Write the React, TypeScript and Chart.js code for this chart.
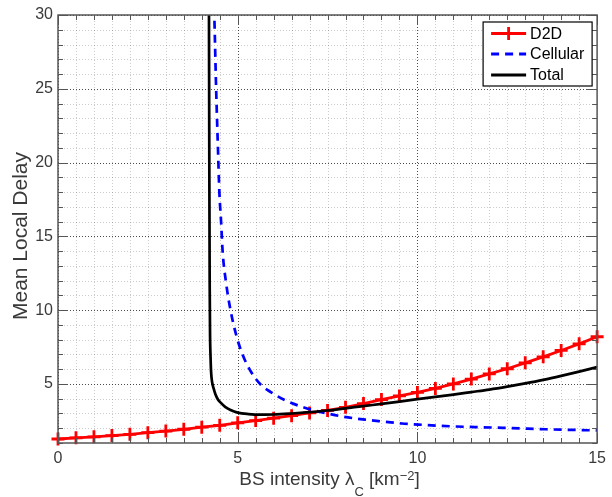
import React, { useEffect, useRef } from 'react';
import { Chart, registerables } from 'chart.js';

Chart.register(...registerables);

// ---- data ----
const d2dX = [0, 0.5, 1, 1.5, 2, 2.5, 3, 3.5, 4, 4.5, 5, 5.5, 6, 6.5, 7, 7.5, 8, 8.5, 9, 9.5, 10, 10.5, 11, 11.5, 12, 12.5, 13, 13.5, 14, 14.5, 15];
const d2dY = [1.27, 1.35, 1.42, 1.5, 1.59, 1.7, 1.81, 1.93, 2.07, 2.2, 2.37, 2.52, 2.68, 2.85, 3.04, 3.21, 3.42, 3.67, 3.94, 4.19, 4.43, 4.7, 5.0, 5.33, 5.68, 6.03, 6.43, 6.84, 7.27, 7.72, 8.2];

const cellularX = [4.33, 4.35, 4.4, 4.45, 4.49, 4.54, 4.58, 4.68, 4.8, 4.96, 5.14, 5.37, 5.65, 5.92, 6.29, 6.75, 7.12, 7.5, 7.9, 8.55, 9.1, 9.57, 10.03, 10.58, 11.04, 11.6, 12.05, 12.56, 13.07, 13.58, 14.08, 14.5, 15];
const cellularY = [31.5, 29.9, 25, 21, 18, 15.9, 14, 11.8, 10.0, 8.3, 6.96, 5.83, 4.93, 4.45, 3.93, 3.48, 3.21, 3.0, 2.8, 2.58, 2.44, 2.32, 2.25, 2.17, 2.12, 2.08, 2.05, 2.01, 1.97, 1.93, 1.9, 1.88, 1.85];

const totalX = [4.2, 4.21, 4.22, 4.23, 4.245, 4.26, 4.29, 4.33, 4.38, 4.45, 4.54, 4.65, 4.8, 5.0, 5.3, 5.65, 6.0, 6.5, 7.0, 7.5, 8.0, 8.5, 9.0, 9.5, 10, 10.5, 11, 11.5, 12, 12.5, 13, 13.5, 14, 14.5, 15];
const totalY = [31, 20, 12, 8.5, 6.8, 5.8, 5.1, 4.7, 4.3, 3.95, 3.7, 3.45, 3.24, 3.06, 2.96, 2.92, 2.93, 3.0, 3.09, 3.2, 3.35, 3.5, 3.65, 3.8, 3.97, 4.12, 4.28, 4.45, 4.62, 4.82, 5.04, 5.28, 5.55, 5.84, 6.14];

const seriesNames = ['D2D', 'Cellular', 'Total'];
const xMajorTicks = [0, 5, 10, 15];
const yMajorTicks = [5, 10, 15, 20, 25, 30];
const X_RANGE = [0, 15];
const Y_RANGE = [1, 30];

const FONT = '"Liberation Sans", Arial, Helvetica, sans-serif';
const AXIS_COLOR = '#555555';
const TEXT_COLOR = '#3a3a3a';

const toPoints = (xs: number[], ys: number[]) => xs.map((x, i) => ({ x, y: ys[i] }));

const framePlugin = {
  id: 'matlabFrame',
  beforeDatasetsDraw(chart: any) {
    const { ctx, chartArea: a, scales } = chart;
    const xs = scales.x;
    const ys = scales.y;
    ctx.save();
    ctx.beginPath();
    ctx.rect(a.left, a.top, a.right - a.left, a.bottom - a.top);
    ctx.clip();
    ctx.lineWidth = 1;
    const pass = (major: boolean) => {
      ctx.strokeStyle = major ? 'rgba(0,0,0,0.7)' : 'rgba(0,0,0,0.2)';
      ctx.setLineDash([1, 2]);
      xs.ticks.forEach((t: any) => {
        if (xMajorTicks.includes(t.value) !== major) return;
        const px = Math.round(xs.getPixelForValue(t.value)) + 0.5;
        ctx.beginPath();
        ctx.moveTo(px, a.top);
        ctx.lineTo(px, a.bottom);
        ctx.stroke();
      });
      ys.ticks.forEach((t: any) => {
        if (yMajorTicks.includes(t.value) !== major) return;
        const py = Math.round(ys.getPixelForValue(t.value)) + 0.5;
        ctx.beginPath();
        ctx.moveTo(a.left, py);
        ctx.lineTo(a.right, py);
        ctx.stroke();
      });
    };
    pass(false);
    pass(true);
    ctx.restore();
  },
  afterDatasetsDraw(chart: any) {
    const { ctx, chartArea: a, scales } = chart;
    const xs = scales.x;
    const ys = scales.y;
    ctx.save();
    ctx.setLineDash([]);
    // ticks (inward, all four sides)
    ctx.strokeStyle = AXIS_COLOR;
    ctx.lineWidth = 1;
    xs.ticks.forEach((t: any) => {
      const len = xMajorTicks.includes(t.value) ? 10 : 5;
      const px = Math.round(xs.getPixelForValue(t.value)) + 0.5;
      ctx.beginPath();
      ctx.moveTo(px, a.bottom);
      ctx.lineTo(px, a.bottom - len);
      ctx.moveTo(px, a.top);
      ctx.lineTo(px, a.top + len);
      ctx.stroke();
    });
    ys.ticks.forEach((t: any) => {
      const len = yMajorTicks.includes(t.value) ? 10 : 5;
      const py = Math.round(ys.getPixelForValue(t.value)) + 0.5;
      ctx.beginPath();
      ctx.moveTo(a.left, py);
      ctx.lineTo(a.left + len, py);
      ctx.moveTo(a.right, py);
      ctx.lineTo(a.right - len, py);
      ctx.stroke();
    });
    // box
    ctx.lineWidth = 1.5;
    ctx.strokeRect(a.left, a.top, a.right - a.left, a.bottom - a.top);

    // legend
    const lx0 = a.right - 114;
    const ly0 = a.top + 7;
    const lw = 109;
    const lh = 64;
    ctx.fillStyle = '#ffffff';
    ctx.fillRect(lx0, ly0, lw, lh);
    ctx.strokeStyle = '#000000';
    ctx.lineWidth = 1.2;
    ctx.strokeRect(lx0, ly0, lw, lh);
    const rowY = [ly0 + 11.5, ly0 + 32, ly0 + 53];
    const sx0 = lx0 + 8;
    const sx1 = lx0 + 43;
    chart.data.datasets.forEach((ds: any, i: number) => {
      const yy = rowY[i];
      ctx.save();
      ctx.strokeStyle = ds.borderColor;
      ctx.lineWidth = 2.8;
      ctx.setLineDash(ds.borderDash || []);
      ctx.beginPath();
      ctx.moveTo(sx0, yy);
      ctx.lineTo(sx1, yy);
      ctx.stroke();
      ctx.setLineDash([]);
      if (ds.pointStyle === 'cross') {
        const cx = (sx0 + sx1) / 2;
        ctx.beginPath();
        ctx.moveTo(cx, yy - 6.5);
        ctx.lineTo(cx, yy + 6.5);
        ctx.moveTo(cx - 6.5, yy);
        ctx.lineTo(cx + 6.5, yy);
        ctx.stroke();
      }
      ctx.restore();
      ctx.fillStyle = '#000000';
      ctx.font = `16px ${FONT}`;
      ctx.textAlign = 'left';
      ctx.textBaseline = 'middle';
      ctx.fillText(ds.label, sx1 + 4, yy + 1);
    });

    // y-axis title
    ctx.fillStyle = TEXT_COLOR;
    ctx.save();
    ctx.translate(21, (a.top + a.bottom) / 2 + 7);
    ctx.rotate(-Math.PI / 2);
    ctx.font = `21px ${FONT}`;
    ctx.textAlign = 'center';
    ctx.textBaseline = 'middle';
    ctx.fillText('Mean Local Delay', 0, 0);
    ctx.restore();

    // x-axis title with sub/superscript
    const parts = [
      { t: 'BS intensity \u03BB', size: 19, dy: 0 },
      { t: 'C', size: 13, dy: 11 },
      { t: ' [km', size: 19, dy: 0 },
      { t: '\u22122', size: 13, dy: -5 },
      { t: ']', size: 19, dy: 0 },
    ];
    let total = 0;
    parts.forEach((p) => {
      ctx.font = `${p.size}px ${FONT}`;
      total += ctx.measureText(p.t).width;
    });
    let cx = (a.left + a.right) / 2 - total / 2 + 2;
    const base = a.bottom + 42;
    ctx.textAlign = 'left';
    ctx.textBaseline = 'alphabetic';
    parts.forEach((p) => {
      ctx.font = `${p.size}px ${FONT}`;
      ctx.fillText(p.t, cx, base + p.dy);
      cx += ctx.measureText(p.t).width;
    });
    ctx.restore();
  },
};

export default function App() {
  const ref = useRef<HTMLCanvasElement>(null);
  useEffect(() => {
    if (!ref.current) return;
    Chart.defaults.font.family = FONT;
    const chart = new Chart(ref.current, {
      type: 'line',
      data: {
        datasets: [
          {
            label: seriesNames[0],
            data: toPoints(d2dX, d2dY),
            borderColor: '#ff0000',
            backgroundColor: '#ff0000',
            borderWidth: 2.8,
            pointStyle: 'cross',
            pointRadius: 6.5,
            pointBorderWidth: 2.8,
            pointBorderColor: '#ff0000',
            tension: 0,
            clip: false as any,
            order: 3,
          },
          {
            label: seriesNames[1],
            data: toPoints(cellularX, cellularY),
            borderColor: '#0000ff',
            backgroundColor: '#0000ff',
            borderWidth: 2.7,
            borderDash: [8, 6],
            pointRadius: 0,
            cubicInterpolationMode: 'monotone',
            order: 2,
          },
          {
            label: seriesNames[2],
            data: toPoints(totalX, totalY),
            borderColor: '#000000',
            backgroundColor: '#000000',
            borderWidth: 2.7,
            pointRadius: 0,
            cubicInterpolationMode: 'monotone',
            order: 1,
          },
        ],
      },
      options: {
        responsive: false,
        animation: false,
        events: [],
        layout: { padding: { top: 15, right: 12, left: 0, bottom: 0 } },
        plugins: {
          legend: { display: false },
          tooltip: { enabled: false },
        },
        scales: {
          x: {
            type: 'linear',
            min: X_RANGE[0],
            max: X_RANGE[1],
            grid: { display: false, drawTicks: false },
            border: { display: false },
            ticks: {
              stepSize: 0.5,
              autoSkip: false,
              maxRotation: 0,
              padding: 6,
              color: TEXT_COLOR,
              font: { size: 16, family: FONT },
              callback: (v: any) => (xMajorTicks.includes(Number(v)) ? String(v) : ''),
            },
            afterFit: (s: any) => {
              s.height = 54;
            },
          },
          y: {
            type: 'linear',
            min: Y_RANGE[0],
            max: Y_RANGE[1],
            grid: { display: false, drawTicks: false },
            border: { display: false },
            ticks: {
              stepSize: 1,
              autoSkip: false,
              padding: 5,
              color: TEXT_COLOR,
              font: { size: 16, family: FONT },
              callback: (v: any) => (yMajorTicks.includes(Number(v)) ? String(v) : ''),
            },
            afterFit: (s: any) => {
              s.width = 58;
            },
          },
        },
      } as any,
      plugins: [framePlugin],
    });
    return () => chart.destroy();
  }, []);
  return (
    <div style={{ position: 'fixed', left: 0, top: 0, width: 612, height: 497, background: '#ffffff' }}>
      <canvas ref={ref} width={612} height={497} style={{ display: 'block' }} />
    </div>
  );
}
